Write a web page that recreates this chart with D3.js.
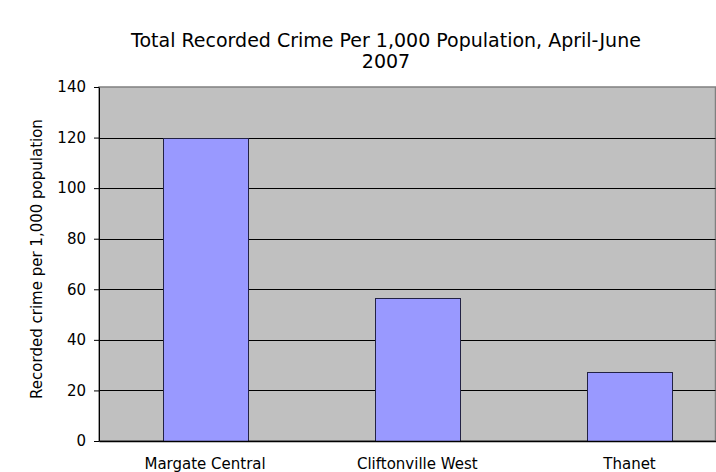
<!DOCTYPE html>
<html>
<head>
<meta charset="utf-8">
<script src="https://cdn.jsdelivr.net/npm/d3@7/dist/d3.min.js"></script>
<style>
  html, body { margin: 0; padding: 0; background: #fff; }
  svg { display: block; font-family: "DejaVu Sans", Verdana, sans-serif; }
</style>
</head>
<body>
<svg id="chart" width="716" height="472"></svg>
<script>
// Recorded crime per 1,000 population, April-June 2007
const categories = ["Margate Central", "Cliftonville West", "Thanet"];
const crimeRate = [119.7, 56.4, 27.2];
const yTicks = [0, 20, 40, 60, 80, 100, 120, 140];
const titleLines = ["Total Recorded Crime Per 1,000 Population, April-June", "2007"];
const yAxisTitle = "Recorded crime per 1,000 population";

const svg = d3.select("#chart");
const plot = { left: 99, top: 87, bottom: 441, bandRight: 735.6, frameRight: 715.5 };

const x = d3.scaleBand()
  .domain(categories)
  .range([plot.left, plot.bandRight])
  .paddingInner(0.6)
  .paddingOuter(0.3);

const y = d3.scaleLinear()
  .domain([0, 140])
  .range([plot.bottom, plot.top]);

// plot background
svg.append("rect")
  .attr("x", plot.left)
  .attr("y", plot.top)
  .attr("width", plot.frameRight - plot.left)
  .attr("height", plot.bottom - plot.top)
  .attr("fill", "#c0c0c0")
  .attr("stroke", "#808080")
  .attr("stroke-width", 1.5);

// horizontal gridlines
svg.append("g")
  .selectAll("line")
  .data(yTicks.filter(d => d > 0 && d < 140))
  .join("line")
  .attr("x1", plot.left)
  .attr("x2", plot.frameRight)
  .attr("y1", d => Math.round(y(d)) + 0.5)
  .attr("y2", d => Math.round(y(d)) + 0.5)
  .attr("stroke", "#000")
  .attr("stroke-width", 1);

// bars
svg.append("g")
  .selectAll("rect")
  .data(categories.map((c, i) => ({ c, v: crimeRate[i] })))
  .join("rect")
  .attr("x", d => Math.round(x(d.c)) + 0.5)
  .attr("y", d => Math.round(y(d.v)) + 0.5)
  .attr("width", Math.round(x.bandwidth()))
  .attr("height", d => Math.round(y(0)) - Math.round(y(d.v)))
  .attr("fill", "#9999ff")
  .attr("stroke", "#222244")
  .attr("stroke-width", 1);

// y axis
const yAxis = svg.append("g")
  .attr("transform", `translate(${plot.left},0)`)
  .call(d3.axisLeft(y).tickValues(yTicks).tickSize(5).tickPadding(8).tickSizeOuter(0));
yAxis.select(".domain").attr("stroke", "#000");
yAxis.selectAll(".tick line").attr("stroke", "#000");
yAxis.selectAll(".tick text")
  .attr("font-size", 15)
  .attr("font-family", "DejaVu Sans, Verdana, sans-serif")
  .attr("fill", "#000");

// x axis
const xAxis = svg.append("g")
  .attr("transform", `translate(0,${plot.bottom})`)
  .call(d3.axisBottom(x).tickSize(0).tickPadding(17).tickSizeOuter(0));
xAxis.select(".domain").attr("stroke", "#000").attr("stroke-width", 1.5);
xAxis.selectAll(".tick text")
  .attr("font-size", 15)
  .attr("font-family", "DejaVu Sans, Verdana, sans-serif")
  .attr("fill", "#000");

// title
svg.append("text")
  .attr("text-anchor", "middle")
  .attr("font-size", 19)
  .attr("fill", "#000")
  .selectAll("tspan")
  .data(titleLines)
  .join("tspan")
  .attr("x", 386)
  .attr("y", (d, i) => 47 + i * 21)
  .text(d => d);

// y axis title
svg.append("text")
  .attr("transform", `translate(42,259) rotate(-90)`)
  .attr("text-anchor", "middle")
  .attr("font-size", 15)
  .attr("fill", "#000")
  .text(yAxisTitle);
</script>
</body>
</html>
